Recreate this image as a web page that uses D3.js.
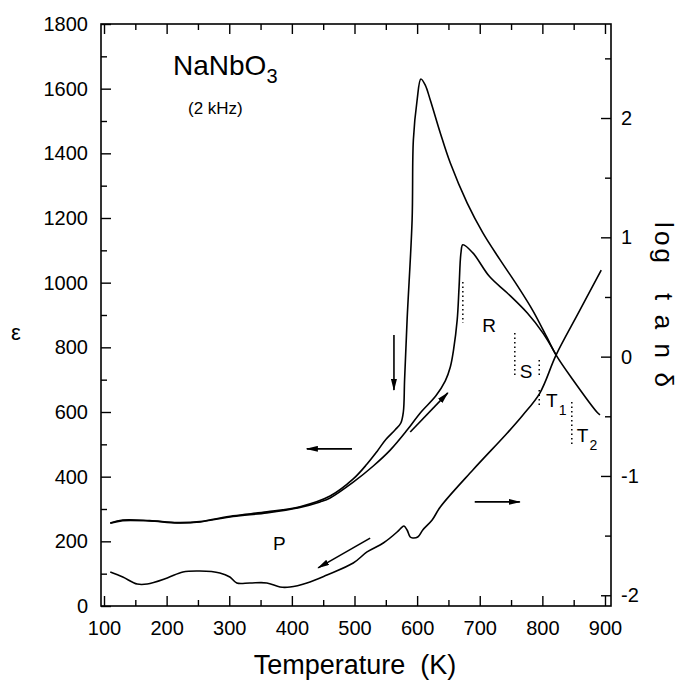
<!DOCTYPE html>
<html>
<head>
<meta charset="utf-8">
<script src="https://cdn.jsdelivr.net/npm/d3@7"></script>
<style>
  body { margin: 0; background: #fff; }
  svg { display: block; font-family: "Liberation Sans", Arial, sans-serif; }
</style>
</head>
<body>
<svg id="chart" width="680" height="681"></svg>
<script>
// Permittivity (heating run), [T in K, epsilon]
const epsHeating = [
  [110, 256], [130, 264], [173, 263], [217, 257], [253, 260], [306, 277], [360, 288],
  [413, 305], [445, 322], [461, 334], [498, 383], [530, 433], [557, 482], [584, 544],
  [605, 597], [630, 650], [645, 696], [653, 739], [658, 790], [664, 885], [667, 987],
  [670, 1092], [673, 1117], [689, 1092], [716, 1018], [744, 968], [776, 906], [801, 844],
  [822, 776]
];

// Permittivity (cooling run), [T in K, epsilon]
const epsCooling = [
  [110, 257], [130, 266], [173, 264], [217, 258], [253, 261], [306, 279], [360, 291],
  [413, 307], [461, 340], [498, 393], [520, 439], [536, 478], [550, 515], [565, 545],
  [574, 566], [578, 600], [580, 700], [584, 885], [592, 1194], [594, 1441], [600, 1565],
  [606, 1630], [613, 1611], [621, 1565], [637, 1463], [653, 1370], [680, 1246],
  [705, 1154], [732, 1072], [760, 991], [785, 913], [807, 832], [822, 776], [849, 699],
  [887, 600], [892, 591]
];

// Dielectric loss, [T in K, log tan(delta)]
const lossTangent = [
  [110, -1.805], [130, -1.847], [153, -1.906], [169, -1.906], [201, -1.855], [226, -1.805],
  [253, -1.797], [285, -1.813], [301, -1.847], [312, -1.897], [333, -1.897], [360, -1.897],
  [381, -1.931], [397, -1.931], [424, -1.897], [456, -1.830], [498, -1.730], [520, -1.637],
  [546, -1.562], [568, -1.470], [576, -1.428], [579, -1.419], [584, -1.453], [589, -1.512],
  [593, -1.520], [601, -1.512], [609, -1.453], [624, -1.369], [637, -1.260], [689, -0.950],
  [744, -0.640], [769, -0.489], [796, -0.305], [822, 0.014], [858, 0.370], [894, 0.726]
];

// axis ticks
const tempTicks = [100, 200, 300, 400, 500, 600, 700, 800, 900];
const tempMinorTicks = [150, 250, 350, 450, 550, 650, 750, 850];
const epsTicks = [0, 200, 400, 600, 800, 1000, 1200, 1400, 1600, 1800];
const epsMinorTicks = [100, 300, 500, 700, 900, 1100, 1300, 1500, 1700];
const tanTicks = [-2, -1, 0, 1, 2];
const tanMinorTicks = [-1.5, -0.5, 0.5, 1.5, 2.5];

// direction arrows, [T1, eps1, T2, eps2]
const arrows = [
  [563, 838, 563, 668],
  [589, 538, 649, 659],
  [496, 486, 424, 486],
  [692, 322, 764, 322],
  [525, 210, 442, 118]
];

// phase boundary markers, [T, eps from, eps to]
const boundaries = [
  [673, 1002, 875],
  [756, 844, 708],
  [795, 761, 705],
  [795, 668, 622],
  [847, 631, 498]
];

// phase names: [name, subscript, T, eps]
const phases = [
  ["R", "", 704, 847],
  ["S", "", 764, 705],
  ["T", "1", 806, 615],
  ["T", "2", 855, 507],
  ["P", "", 370, 173]
];

const frame = { left: 101, right: 611, top: 24, bottom: 606 };

const svg = d3.select('#chart');

const x = d3.scaleLinear().domain([95.2, 909.6]).range([frame.left, frame.right]);
const yEps = d3.scaleLinear().domain([0, 1800]).range([frame.bottom, frame.top]);
const yTan = d3.scaleLinear().domain([-2.09, 2.788]).range([frame.bottom, frame.top]);

// arrow head
svg.append('defs').append('marker')
  .attr('id', 'head')
  .attr('viewBox', '0 0 12 6')
  .attr('refX', 11).attr('refY', 3)
  .attr('markerWidth', 12).attr('markerHeight', 6)
  .attr('markerUnits', 'userSpaceOnUse')
  .attr('orient', 'auto')
  .append('path')
  .attr('d', 'M0,0 L12,3 L0,6 Z')
  .attr('fill', '#000');

function styleAxis(g) {
  g.select('.domain').remove();
  g.selectAll('line').attr('stroke', '#000').attr('stroke-width', 1.4);
  g.selectAll('text').attr('font-size', 20).attr('fill', '#000')
    .attr('font-family', '"Liberation Sans", Arial, sans-serif');
}

const plain = d => String(d);

// bottom axis with labels, ticks point inward
svg.append('g')
  .attr('transform', `translate(0,${frame.bottom})`)
  .call(d3.axisBottom(x).tickValues(tempTicks).tickSize(-10).tickPadding(15).tickFormat(plain))
  .call(styleAxis);
svg.append('g')
  .attr('transform', `translate(0,${frame.bottom})`)
  .call(d3.axisBottom(x).tickValues(tempMinorTicks).tickSize(-6).tickFormat(''))
  .call(styleAxis);

// top axis, ticks only
svg.append('g')
  .attr('transform', `translate(0,${frame.top})`)
  .call(d3.axisTop(x).tickValues(tempTicks).tickSize(-10).tickFormat(''))
  .call(styleAxis);
svg.append('g')
  .attr('transform', `translate(0,${frame.top})`)
  .call(d3.axisTop(x).tickValues(tempMinorTicks).tickSize(-6).tickFormat(''))
  .call(styleAxis);

// left axis: permittivity
svg.append('g')
  .attr('transform', `translate(${frame.left},0)`)
  .call(d3.axisLeft(yEps).tickValues(epsTicks).tickSize(-10).tickPadding(13).tickFormat(plain))
  .call(styleAxis);
svg.append('g')
  .attr('transform', `translate(${frame.left},0)`)
  .call(d3.axisLeft(yEps).tickValues(epsMinorTicks).tickSize(-6).tickFormat(''))
  .call(styleAxis);

// right axis: log tan(delta)
svg.append('g')
  .attr('transform', `translate(${frame.right},0)`)
  .call(d3.axisRight(yTan).tickValues(tanTicks).tickSize(-10).tickPadding(10).tickFormat(plain))
  .call(styleAxis);
svg.append('g')
  .attr('transform', `translate(${frame.right},0)`)
  .call(d3.axisRight(yTan).tickValues(tanMinorTicks).tickSize(-6).tickFormat(''))
  .call(styleAxis);

// plot frame
svg.append('rect')
  .attr('x', frame.left).attr('y', frame.top)
  .attr('width', frame.right - frame.left)
  .attr('height', frame.bottom - frame.top)
  .attr('fill', 'none').attr('stroke', '#000').attr('stroke-width', 1.6);

// curves
const epsLine = d3.line().x(d => x(d[0])).y(d => yEps(d[1])).curve(d3.curveCatmullRom.alpha(0.5));
const tanLine = d3.line().x(d => x(d[0])).y(d => yTan(d[1])).curve(d3.curveCatmullRom.alpha(0.5));

[epsHeating, epsCooling].forEach(series => {
  svg.append('path')
    .datum(series)
    .attr('d', epsLine)
    .attr('fill', 'none').attr('stroke', '#000').attr('stroke-width', 1.6);
});

svg.append('path')
  .datum(lossTangent)
  .attr('d', tanLine)
  .attr('fill', 'none').attr('stroke', '#000').attr('stroke-width', 1.6);

// arrows showing run direction
svg.selectAll('.arrow')
  .data(arrows)
  .join('line')
  .attr('class', 'arrow')
  .attr('x1', d => x(d[0])).attr('y1', d => yEps(d[1]))
  .attr('x2', d => x(d[2])).attr('y2', d => yEps(d[3]))
  .attr('stroke', '#000').attr('stroke-width', 1.6)
  .attr('marker-end', 'url(#head)');

// dotted phase boundaries
svg.selectAll('.boundary')
  .data(boundaries)
  .join('line')
  .attr('class', 'boundary')
  .attr('x1', d => x(d[0])).attr('x2', d => x(d[0]))
  .attr('y1', d => yEps(d[1])).attr('y2', d => yEps(d[2]))
  .attr('stroke', '#000').attr('stroke-width', 1.5)
  .attr('stroke-dasharray', '1.5,3');

// phase names
const phaseText = svg.selectAll('.phase')
  .data(phases)
  .join('text')
  .attr('class', 'phase')
  .attr('x', d => x(d[2])).attr('y', d => yEps(d[3]))
  .attr('font-size', 19);
phaseText.append('tspan').text(d => d[0]);
phaseText.append('tspan')
  .attr('font-size', 14).attr('dx', 1).attr('dy', 8)
  .text(d => d[1]);

// sample and frequency
const title = svg.append('text').attr('x', 173).attr('y', 75).attr('font-size', 28);
title.append('tspan').text('NaNbO');
title.append('tspan').attr('font-size', 20).attr('dy', 8).text('3');
svg.append('text').attr('x', 188).attr('y', 114).attr('font-size', 17).text('(2 kHz)');

// axis titles
svg.append('text')
  .attr('x', 355).attr('y', 674)
  .attr('text-anchor', 'middle')
  .attr('font-size', 27)
  .style('white-space', 'pre')
  .text('Temperature  (K)');

svg.append('text')
  .attr('x', 11).attr('y', 340)
  .attr('font-size', 22)
  .text('ε');

svg.append('text')
  .attr('transform', 'translate(655,222) rotate(90)')
  .attr('font-size', 26)
  .attr('textLength', 41)
  .attr('lengthAdjust', 'spacing')
  .text('log');

svg.append('text')
  .attr('transform', 'translate(655,293) rotate(90)')
  .attr('font-size', 26)
  .attr('textLength', 94)
  .attr('lengthAdjust', 'spacing')
  .text('tanδ');
</script>
</body>
</html>
